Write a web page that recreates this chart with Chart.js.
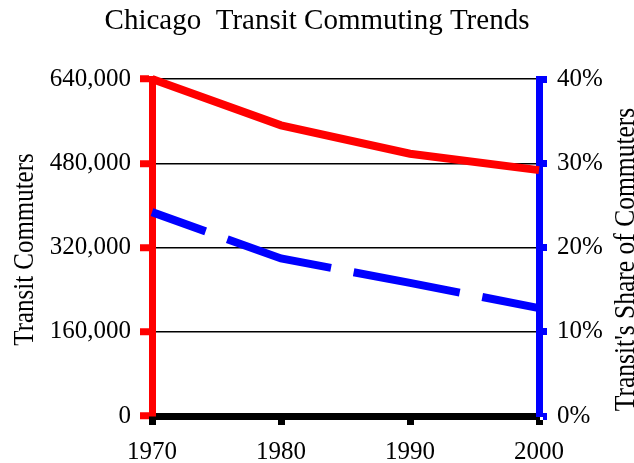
<!DOCTYPE html>
<html>
<head>
<meta charset="utf-8">
<script src="https://cdn.jsdelivr.net/npm/chart.js@4"></script>
<style>
    html, body { margin: 0; padding: 0; background: #ffffff; }
    #wrap { width: 634px; height: 463px; }
</style>
</head>
<body>
<div id="wrap"><canvas id="transitChart" width="634" height="463"></canvas></div>
<script>
var years = ["1970", "1980", "1990", "2000"];
var transitCommuters = [640000, 552000, 498000, 467000];
var transitShare = [24.2, 18.7, 15.8, 12.8];
var commuterTicks = [0, 160000, 320000, 480000, 640000];
var shareTicks = [0, 10, 20, 30, 40];

var serif = "'Liberation Serif', 'Times New Roman', serif";

// axis titles drawn by hand: the right one reads bottom-to-top in the original
var axisTitles = {
    id: "axisTitles",
    afterDraw: function (chart) {
        var ctx = chart.ctx;
        var area = chart.chartArea;
        ctx.save();
        ctx.fillStyle = "#000000";
        ctx.font = "29px " + serif;
        ctx.textAlign = "center";
        ctx.textBaseline = "alphabetic";

        ctx.save();
        ctx.translate(33, (area.top + area.bottom) / 2 + 2);
        ctx.rotate(-Math.PI / 2);
        ctx.scale(0.86, 1);
        ctx.fillText("Transit Commuters", 0, 0);
        ctx.restore();

        ctx.save();
        ctx.translate(634, (area.top + area.bottom) / 2 + 12);
        ctx.rotate(-Math.PI / 2);
        ctx.scale(0.88, 1);
        ctx.fillText("Transit's Share of Commuters", 0, 0);
        ctx.restore();

        ctx.restore();
    },
};

function renderTransitChart() {
    var ctx = document.getElementById("transitChart").getContext("2d");

    var myChart = new Chart(ctx, {
        type: "line",
        data: {
            labels: years,
            datasets: [
                {
                    label: "Transit Commuters",
                    data: transitCommuters,
                    borderColor: "#ff0000",
                    borderWidth: 8,
                    pointRadius: 0,
                    tension: 0,
                    clip: false,
                    yAxisID: "y",
                },
                {
                    label: "Transit's Share of Commuters",
                    data: transitShare,
                    borderColor: "#0000ff",
                    borderWidth: 8,
                    borderDash: [108, 23],
                    borderDashOffset: 51,
                    borderCapStyle: "butt",
                    pointRadius: 0,
                    tension: 0,
                    clip: false,
                    yAxisID: "y1",
                },
            ],
        },
        options: {
            responsive: false,
            animation: false,
            layout: { padding: 0 },
            plugins: {
                legend: { display: false },
                tooltip: { enabled: false },
                title: {
                    display: true,
                    text: "Chicago  Transit Commuting Trends",
                    color: "#000000",
                    font: { family: serif, size: 29, weight: "normal" },
                    padding: { top: 4, bottom: 40.2 },
                },
            },
            scales: {
                x: {
                    afterFit: function (scale) {
                        scale.height = 47;
                    },
                    grid: {
                        drawOnChartArea: false,
                        tickColor: "#000000",
                        tickWidth: 7,
                        tickLength: 9,
                    },
                    border: { color: "#000000", width: 7 },
                    ticks: {
                        color: "#000000",
                        padding: 12,
                        maxRotation: 0,
                        font: { family: serif, size: 25 },
                    },
                },
                y: {
                    position: "left",
                    min: 0,
                    max: 640000,
                    afterFit: function (scale) {
                        scale.width = 152;
                    },
                    afterBuildTicks: function (scale) {
                        scale.ticks = commuterTicks.map(function (v) {
                            return { value: v };
                        });
                    },
                    grid: {
                        color: "#000000",
                        lineWidth: 1.5,
                        tickColor: "#ff0000",
                        tickWidth: 7,
                        tickLength: 12,
                    },
                    border: { color: "#ff0000", width: 7 },
                    ticks: {
                        color: "#000000",
                        padding: 9,
                        font: { family: serif, size: 25 },
                        callback: function (v) {
                            return Number(v).toLocaleString("en-US");
                        },
                    },
                },
                y1: {
                    position: "right",
                    min: 0,
                    max: 40,
                    afterFit: function (scale) {
                        scale.width = 95;
                    },
                    afterBuildTicks: function (scale) {
                        scale.ticks = shareTicks.map(function (v) {
                            return { value: v };
                        });
                    },
                    grid: {
                        drawOnChartArea: false,
                        tickColor: "#0000ff",
                        tickWidth: 7,
                        tickLength: 8,
                    },
                    border: { color: "#0000ff", width: 7 },
                    ticks: {
                        color: "#000000",
                        padding: 10,
                        font: { family: serif, size: 25 },
                        callback: function (v) {
                            return v + "%";
                        },
                    },
                },
            },
        },
        plugins: [axisTitles],
    });
}

document.addEventListener("DOMContentLoaded", function () {
    renderTransitChart();
});
</script>
</body>
</html>
